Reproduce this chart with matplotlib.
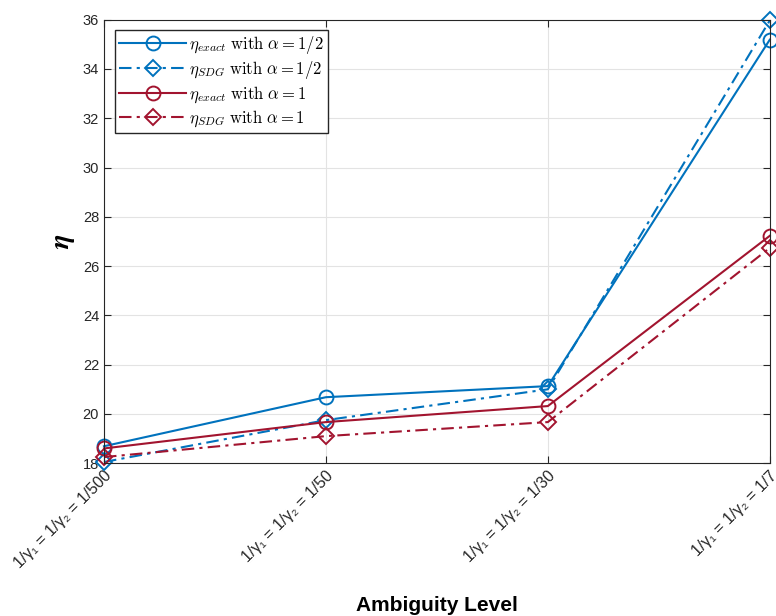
import numpy as np
import matplotlib.pyplot as plt

plt.rcParams["font.family"] = ["Liberation Sans", "DejaVu Sans"]
plt.rcParams["mathtext.fontset"] = "cm"

levels = ["1/γ₁ = 1/γ₂ = 1/500", "1/γ₁ = 1/γ₂ = 1/50",
          "1/γ₁ = 1/γ₂ = 1/30", "1/γ₁ = 1/γ₂ = 1/7"]
exact_half = [18.69, 20.68, 21.13, 35.19]
sdg_half = [18.05, 19.75, 21.0, 35.97]
exact_one = [18.6, 19.67, 20.32, 27.23]
sdg_one = [18.25, 19.1, 19.67, 26.74]

blue = "#0072BD"
red = "#A2142F"
x = np.arange(len(levels))

fig = plt.figure(figsize=(7.76, 6.16), dpi=100)
ax = fig.add_axes([0.134, 0.248, 0.858, 0.72])

ms = 10
dd = (6, 2.5, 1.5, 2.5)
ax.plot(x, exact_half, "-", color=blue, lw=1.5, marker="o", ms=ms, mfc="none", mew=1.4,
        clip_on=False, label=r"$\eta_{exact}\ \mathrm{with}\ \alpha = 1/2$")
ax.plot(x, sdg_half, color=blue, lw=1.5, dashes=dd, marker="D", ms=ms - 1.5,
        mfc="none", mew=1.4, clip_on=False, label=r"$\eta_{SDG}\ \mathrm{with}\ \alpha = 1/2$")
ax.plot(x, exact_one, "-", color=red, lw=1.5, marker="o", ms=ms, mfc="none", mew=1.4,
        clip_on=False, label=r"$\eta_{exact}\ \mathrm{with}\ \alpha = 1$")
ax.plot(x, sdg_one, color=red, lw=1.5, dashes=dd, marker="D", ms=ms - 1.5,
        mfc="none", mew=1.4, clip_on=False, label=r"$\eta_{SDG}\ \mathrm{with}\ \alpha = 1$")

ax.set_xlim(0, 3)
ax.set_ylim(18, 36)
ax.set_yticks(np.arange(18, 37, 2))
ax.set_xticks(x)
ax.set_xticklabels(levels, rotation=45, ha="right", rotation_mode="anchor", fontsize=11.5)
ax.tick_params(axis="y", labelsize=10.5)
ax.tick_params(direction="in", length=5, width=0.8, colors="#262626",
               top=True, right=True)
ax.grid(True, color="#e3e3e3", lw=0.8)
ax.set_axisbelow(True)
for s in ax.spines.values():
    s.set_color("#262626")
    s.set_linewidth(0.8)

ax.set_ylabel(r"$\boldsymbol{\eta}$", fontsize=20, labelpad=4)
ax.set_xlabel("Ambiguity Level", fontsize=15, fontweight="bold", labelpad=18)

ax.legend(loc="upper left", bbox_to_anchor=(0.012, 0.985), fontsize=12, fancybox=False,
          edgecolor="#262626", framealpha=1, handlelength=4.0, borderpad=0.25,
          labelspacing=0.2, handletextpad=0.2, borderaxespad=0.2)

fig.savefig("out.png", dpi=100)
